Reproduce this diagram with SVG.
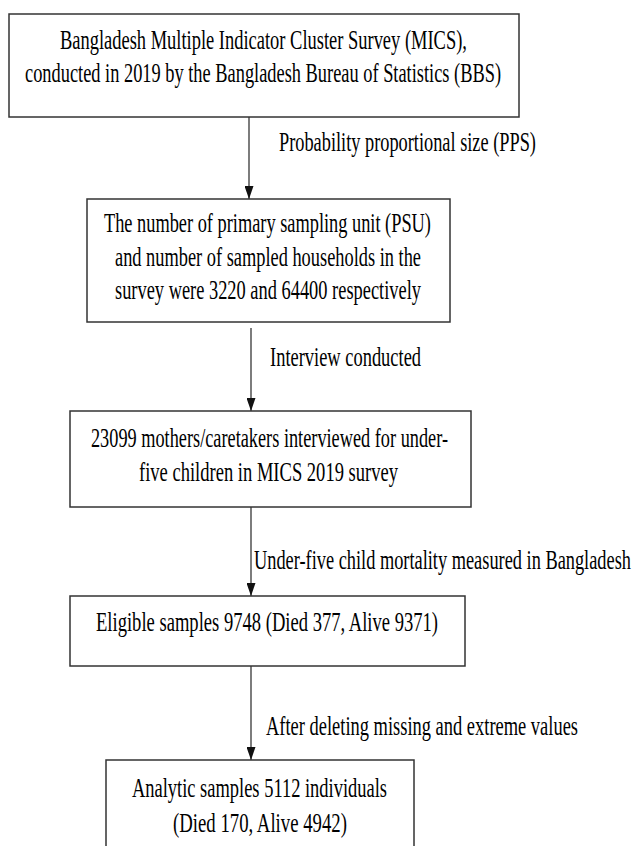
<svg xmlns="http://www.w3.org/2000/svg" width="633" height="846" viewBox="0 0 633 846">
<style>
.box{fill:#fff;stroke:#333;stroke-width:1.5}
.t{font-family:"Liberation Serif","Times New Roman",serif;font-size:27px;fill:#000}
.edge{stroke:#111;stroke-width:1.1;fill:none;marker-end:url(#ah)}
</style>
<defs>
<marker id="ah" viewBox="0 0 13 9" refX="13" refY="4.5" markerWidth="13" markerHeight="9" markerUnits="userSpaceOnUse" orient="auto">
<path d="M0,0 L13,4.5 L0,9 z" fill="#111"/>
</marker>
</defs>
<rect width="633" height="846" fill="#fff"/>
<g id="connectors">
<line class="edge" x1="249" y1="117" x2="249" y2="199"/>
<line class="edge" x1="251" y1="328" x2="251" y2="411"/>
<line class="edge" x1="251" y1="507" x2="251" y2="596"/>
<line class="edge" x1="251" y1="666" x2="251" y2="760"/>
<text class="t" transform="scale(0.68 1)" x="410.3" y="151" textLength="377.9" lengthAdjust="spacingAndGlyphs">Probability proportional size (PPS)</text>
<text class="t" transform="scale(0.68 1)" x="397.1" y="366" textLength="222.1" lengthAdjust="spacingAndGlyphs">Interview conducted</text>
<text class="t" transform="scale(0.68 1)" x="373.5" y="569" textLength="554.4" lengthAdjust="spacingAndGlyphs">Under-five child mortality measured in Bangladesh</text>
<text class="t" transform="scale(0.68 1)" x="391.2" y="735" textLength="458.8" lengthAdjust="spacingAndGlyphs">After deleting missing and extreme values</text>
</g>
<g id="n1">
<rect class="box" x="9" y="14" width="510" height="103"/>
<text class="t" transform="scale(0.68 1)" x="88.2" y="49" textLength="598.5" lengthAdjust="spacingAndGlyphs">Bangladesh Multiple Indicator Cluster Survey (MICS),</text>
<text class="t" transform="scale(0.68 1)" x="36.8" y="82" textLength="700" lengthAdjust="spacingAndGlyphs">conducted in 2019 by the Bangladesh Bureau of Statistics (BBS)</text>
</g>
<g id="n2">
<rect class="box" x="87" y="199" width="363" height="123"/>
<text class="t" transform="scale(0.68 1)" x="152.9" y="232" textLength="480.9" lengthAdjust="spacingAndGlyphs">The number of primary sampling unit (PSU)</text>
<text class="t" transform="scale(0.68 1)" x="169.1" y="266" textLength="450" lengthAdjust="spacingAndGlyphs">and number of sampled households in the</text>
<text class="t" transform="scale(0.68 1)" x="169.1" y="299" textLength="450" lengthAdjust="spacingAndGlyphs">survey were 3220 and 64400 respectively</text>
</g>
<g id="n3">
<rect class="box" x="70" y="411" width="401" height="96"/>
<text class="t" transform="scale(0.68 1)" x="133.8" y="447" textLength="525" lengthAdjust="spacingAndGlyphs">23099 mothers/caretakers interviewed for under-</text>
<text class="t" transform="scale(0.68 1)" x="204.4" y="481" textLength="380.9" lengthAdjust="spacingAndGlyphs">five children in MICS 2019 survey</text>
</g>
<g id="n4">
<rect class="box" x="70" y="596" width="395" height="70"/>
<text class="t" transform="scale(0.68 1)" x="141.2" y="631" textLength="502.9" lengthAdjust="spacingAndGlyphs">Eligible samples 9748 (Died 377, Alive 9371)</text>
</g>
<g id="n5">
<rect class="box" x="106" y="760" width="308" height="110"/>
<text class="t" transform="scale(0.68 1)" x="194.1" y="797" textLength="375" lengthAdjust="spacingAndGlyphs">Analytic samples 5112 individuals</text>
<text class="t" transform="scale(0.68 1)" x="254.4" y="832" textLength="255.9" lengthAdjust="spacingAndGlyphs">(Died 170, Alive 4942)</text>
</g>
</svg>
